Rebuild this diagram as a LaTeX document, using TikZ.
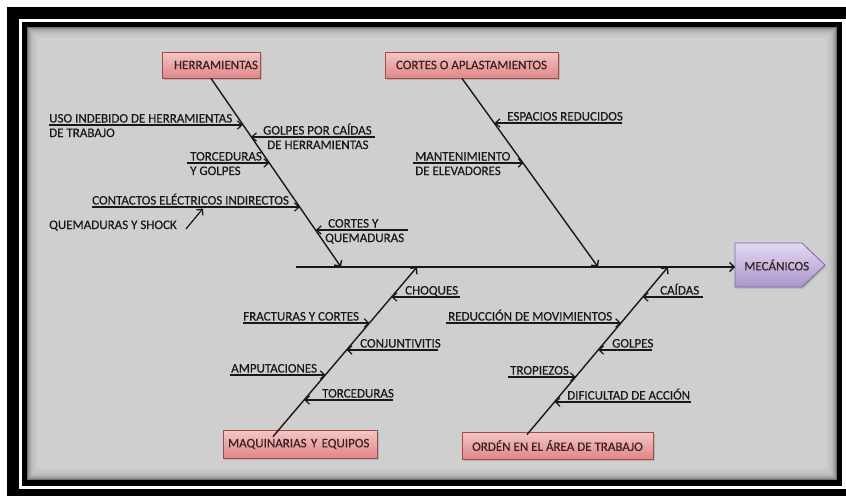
\documentclass[tikz,border=0pt]{standalone}
\usepackage{fontspec}
\setmainfont{Carlito}
\newfontfamily\lblfont{Carlito}[FakeBold=0.35]
\usetikzlibrary{arrows.meta,calc,shadows}

\definecolor{panel}{RGB}{207,207,207}
\definecolor{inkc}{RGB}{24,24,24}
\definecolor{pinktop}{RGB}{244,198,198}
\definecolor{pinkbot}{RGB}{224,134,136}
\definecolor{pinkedge}{RGB}{160,74,76}
\definecolor{lavtop}{RGB}{228,218,242}
\definecolor{lavbot}{RGB}{170,148,204}
\definecolor{lavedge}{RGB}{122,104,156}
\definecolor{boxtext}{RGB}{58,34,34}

\begin{document}
\begin{tikzpicture}[x=1pt,y=-1pt,
  txt/.style={font=\lblfont\fontsize{13}{14}\selectfont, text=inkc, inner sep=0pt, anchor=base west},
  cause/.style={draw=pinkedge, line width=0.8pt, top color=pinktop, bottom color=pinkbot,
    font=\lblfont\fontsize{13}{14}\selectfont, text=boxtext, inner ysep=0pt,
    drop shadow={opacity=0.35, shadow xshift=1.5pt, shadow yshift=-1.5pt}},
  bone/.style={draw=inkc, line width=1.4pt, -{Straight Barb[length=4.5pt,width=9pt]}},
  twig/.style={draw=inkc, line width=1.2pt, -{Straight Barb[length=4.5pt,width=8.5pt]}},
]
\useasboundingbox (0,0) rectangle (846,496);

% frame
\fill[white] (0,0) rectangle (846,496);
\fill[black] (7,7) rectangle (846,496);
\fill[white] (19,19) rectangle (846,489);
\fill[black] (22,22) rectangle (842,486);
\fill[panel] (27,27) rectangle (837,480);
\foreach \i/\o in {0/0.45,1/0.3,2/0.22,3/0.16,4/0.12,5/0.09,6/0.07,7/0.05,8/0.04,9/0.03,10/0.02}
  \draw[black, opacity=\o, line width=1pt] (27.5+\i,27.5+\i) rectangle (836.5-\i,479.5-\i);

% category boxes
\node[cause, text width=94pt, inner xsep=2pt, align=right, minimum height=26pt] (herr) at (211,65) {HERRAMIENTAS};
\node[cause, minimum width=173pt, minimum height=26pt] (cortes) at (471.5,65) {CORTES O APLASTAMIENTOS};
\node[cause, text width=144pt, inner xsep=5pt, align=left, minimum height=28pt] (maq) at (300,444) {MAQUINARIAS Y EQUIPOS};
\node[cause, minimum width=191pt, minimum height=27pt] (orden) at (557.5,445.5) {ORDÉN EN EL ÁREA DE TRABAJO};

% effect: pentagon arrow
\path[draw=lavedge, line width=0.8pt, top color=lavtop, bottom color=lavbot,
  drop shadow={opacity=0.35, shadow xshift=1.5pt, shadow yshift=-1.5pt}]
  (735,243) -- (802,243) -- (825,265) -- (802,287) -- (735,287) -- cycle;
\node[font=\lblfont\fontsize{13}{14}\selectfont, text=boxtext, anchor=west,
  minimum width=90pt, minimum height=44pt, inner sep=0pt] (mec) at (735,265) {\hspace*{-7pt}MECÁNICOS};

% spine
\coordinate (spine) at (296,267);
\draw[bone] (spine) -- (spine -| mec.west);

% main bones
\coordinate (j1) at (341,267);
\coordinate (j2) at (598,267);
\coordinate (j3) at (417,267);
\coordinate (j4) at (668,267);
\draw[bone] (herr.south) -- (j1);
\draw[bone] ($(cortes.south)+(-9.5,0)$) -- (j2);
\draw[bone] ($(maq.north)+(-27,7)$) -- (j3);
\draw[bone] ($(orden.north)+(-30.5,3)$) -- (j4);

% twigs entering from the left
\foreach \n/\xs/\y/\xe in {a/49/125/242.7, b/187/163/269.2, c/92/207/299.9, d/413/163/523.5,
                          e/243/323/369.6, f/230/375/325.5, g/446/323/621, h/508/377/575.7}{
  \coordinate (L\n s) at (\xs,\y);
  \coordinate (L\n e) at (\xe,\y);
  \draw[twig] (L\n s) -- (L\n e);
}
% twigs entering from the right
\foreach \n/\xs/\y/\xe in {a/375/137/251.1, b/408/230/315.9, c/622/123/494.6, d/460/297/391.6,
                          e/438/350/346.7, f/393/400/304.3, g/703/297/642.8, h/652/350/598.3,
                          i/691/402/554.7}{
  \coordinate (R\n s) at (\xs,\y);
  \coordinate (R\n e) at (\xe,\y);
  \draw[twig] (R\n s) -- (R\n e);
}

% labels, herramientas
\node[txt] (uso) at (49,122.5) {USO INDEBIDO DE HERRAMIENTAS};
\node[txt] (uso2) at (49,137) {DE TRABAJO};
\node[txt] (gol) at (263,134.5) {GOLPES POR CAÍDAS};
\node[txt] (gol2) at (267,149) {DE HERRAMIENTAS};
\node[txt] (tor) at (190,160.5) {TORCEDURAS};
\node[txt] (tor2) at (190,175) {Y GOLPES};
\node[txt] (con) at (92,204.5) {CONTACTOS ELÉCTRICOS INDIRECTOS};
\node[txt] (qs) at (49,229) {QUEMADURAS Y SHOCK};
\node[txt] (cyq) at (328,227.5) {CORTES Y};
\node[txt] (cyq2) at (325,242) {QUEMADURAS};
\coordinate (qsto) at (203,208.5);
\draw[twig] ($(qs.base east)+(9,0)$) -- (qsto);

% labels, cortes o aplastamientos
\node[txt] (esp) at (507,120.5) {ESPACIOS REDUCIDOS};
\node[txt] (man) at (415,160.5) {MANTENIMIENTO};
\node[txt] (man2) at (415,175) {DE ELEVADORES};

% labels, maquinarias y equipos
\node[txt] (cho) at (405,294.5) {CHOQUES};
\node[txt] (fra) at (243,320.5) {FRACTURAS Y CORTES};
\node[txt] (cnj) at (360,347.5) {CONJUNTIVITIS};
\node[txt] (amp) at (231,372.5) {AMPUTACIONES};
\node[txt] (trc) at (322,397.5) {TORCEDURAS};

% labels, orden en el area de trabajo
\node[txt] (cai) at (660,294.5) {CAÍDAS};
\node[txt] (red) at (448,320.5) {REDUCCIÓN DE MOVIMIENTOS};
\node[txt] (gpe) at (612,347.5) {GOLPES};
\node[txt] (tro) at (510,374.5) {TROPIEZOS};
\node[txt] (dif) at (567,399.5) {DIFICULTAD DE ACCIÓN};
\end{tikzpicture}
\end{document}
